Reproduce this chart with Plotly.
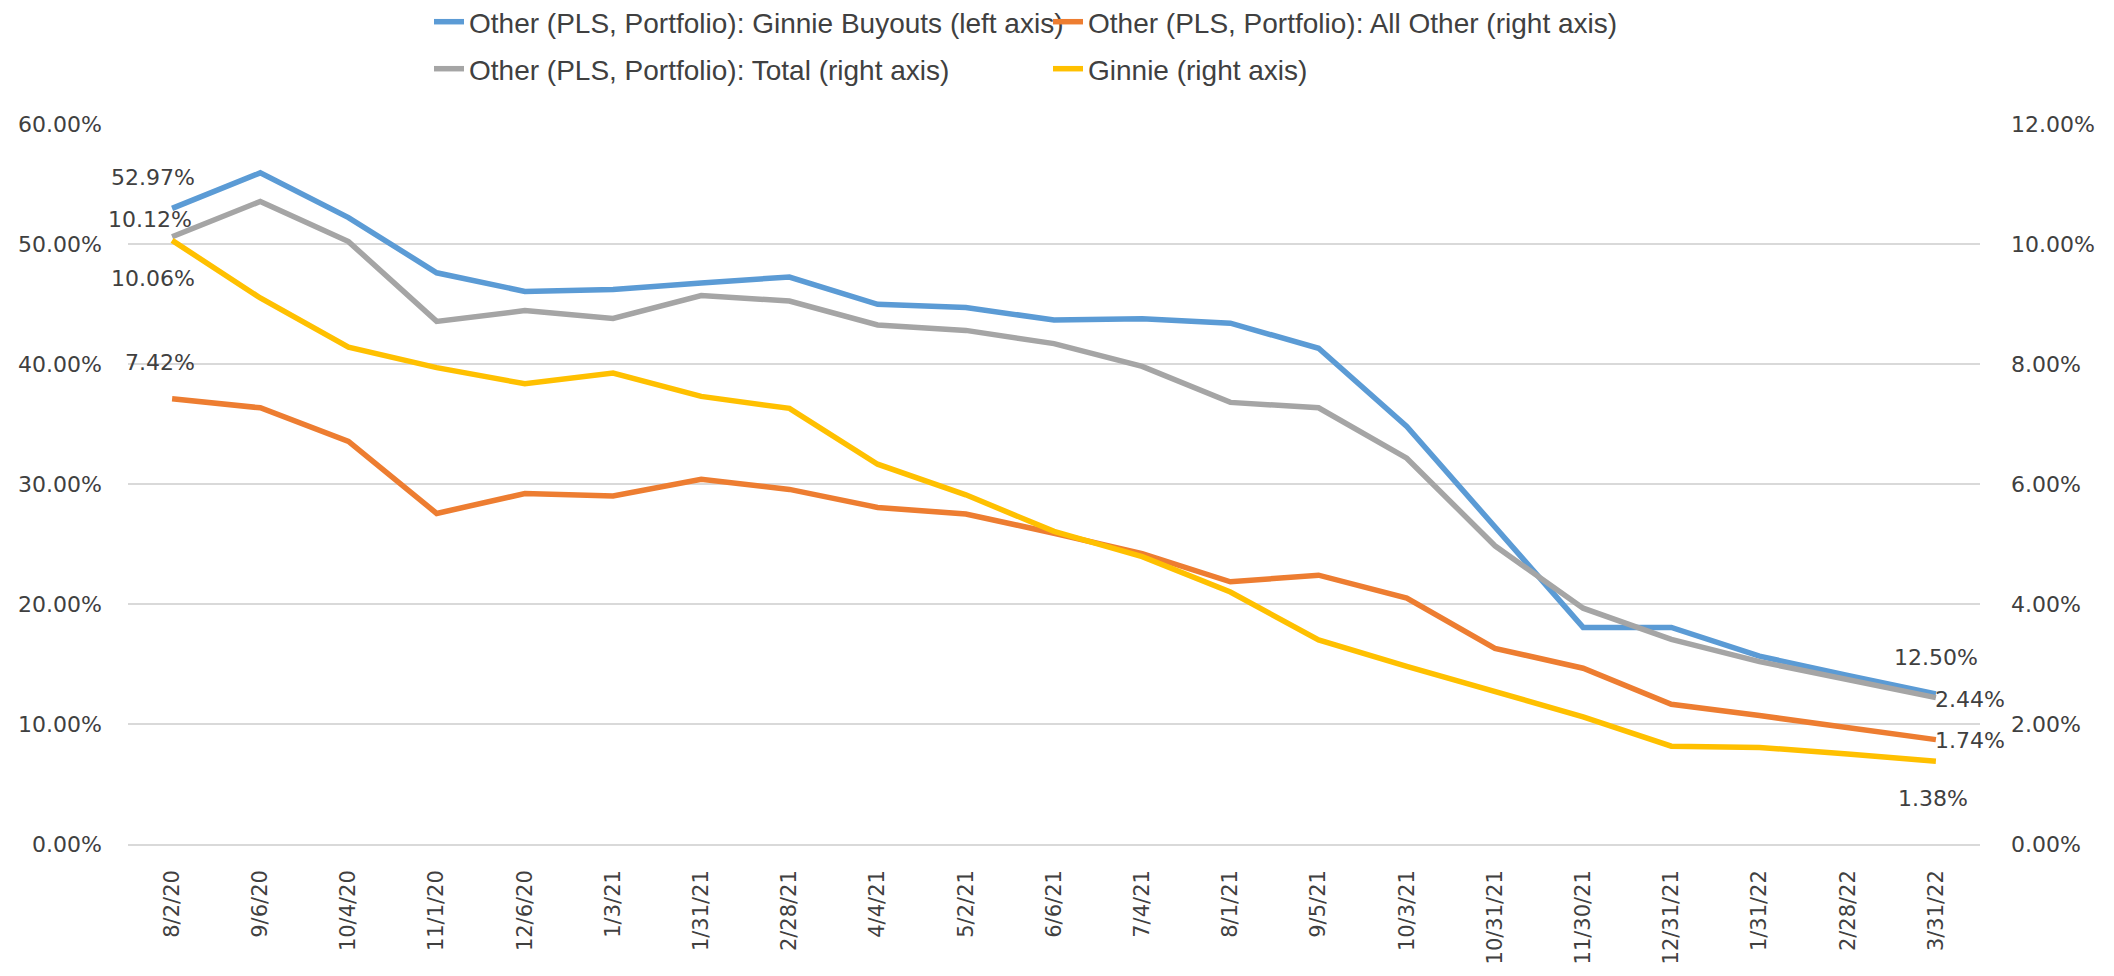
import plotly.graph_objects as go

dates = ["8/2/20", "9/6/20", "10/4/20", "11/1/20", "12/6/20", "1/3/21", "1/31/21",
         "2/28/21", "4/4/21", "5/2/21", "6/6/21", "7/4/21", "8/1/21", "9/5/21",
         "10/3/21", "10/31/21", "11/30/21", "12/31/21", "1/31/22", "2/28/22", "3/31/22"]

ginnie_buyouts = [52.97, 55.93, 52.2, 47.6, 46.05, 46.2, 46.75, 47.25, 44.97, 44.7,
                  43.67, 43.78, 43.4, 41.31, 34.8, 26.4, 18.05, 18.05, 15.65, 14.05, 12.50]
all_other = [7.42, 7.27, 6.71, 5.51, 5.84, 5.80, 6.08, 5.91, 5.61, 5.50,
             5.18, 4.84, 4.37, 4.48, 4.10, 3.26, 2.93, 2.33, 2.14, 1.94, 1.74]
total = [10.12, 10.71, 10.04, 8.71, 8.89, 8.76, 9.14, 9.05, 8.65, 8.56,
         8.34, 7.96, 7.36, 7.27, 6.43, 4.97, 3.93, 3.41, 3.04, 2.73, 2.44]
ginnie = [10.06, 9.10, 8.28, 7.94, 7.67, 7.85, 7.46, 7.26, 6.33, 5.82,
          5.21, 4.79, 4.20, 3.40, 2.96, 2.54, 2.12, 1.63, 1.61, 1.50, 1.38]

names = ["Other (PLS, Portfolio): Ginnie Buyouts (left axis)",
         "Other (PLS, Portfolio): All Other (right axis)",
         "Other (PLS, Portfolio): Total (right axis)",
         "Ginnie (right axis)"]
colors = ["#5B9BD5", "#ED7D31", "#A5A5A5", "#FFC000"]

TXT = "#404040"
GRID = "#D9D9D9"
LW = 5.5

# page body has an 8px margin; figure sized so nothing overflows the window
W, H = 2098, 960

fig = go.Figure()
fig.add_trace(go.Scatter(x=dates, y=ginnie_buyouts, name=names[0], mode="lines",
                         line=dict(color=colors[0], width=LW), yaxis="y", legend="legend"))
fig.add_trace(go.Scatter(x=dates, y=all_other, name=names[1], mode="lines",
                         line=dict(color=colors[1], width=LW), yaxis="y2", legend="legend"))
fig.add_trace(go.Scatter(x=dates, y=total, name=names[2], mode="lines",
                         line=dict(color=colors[2], width=LW), yaxis="y2", legend="legend2"))
fig.add_trace(go.Scatter(x=dates, y=ginnie, name=names[3], mode="lines",
                         line=dict(color=colors[3], width=LW), yaxis="y2", legend="legend2"))

lab_font = dict(family="DejaVu Sans", size=22, color=TXT)

def lab(x, y, yref, xanchor, xshift, yshift):
    fig.add_annotation(x=x, y=y, xref="x", yref=yref, text=f"{y:.2f}%",
                       showarrow=False, xanchor=xanchor, yanchor="middle",
                       xshift=xshift, yshift=yshift, font=lab_font)

first, last = dates[0], dates[-1]
lab(first, ginnie_buyouts[0], "y", "right", 25, 31)
lab(first, total[0], "y2", "right", 22, 17)
lab(first, ginnie[0], "y2", "right", 25, -38)
lab(first, all_other[0], "y2", "right", 25, 36)
lab(last, ginnie_buyouts[-1], "y", "center", 0, 37)
lab(last, total[-1], "y2", "left", -3, -2)
lab(last, all_other[-1], "y2", "left", -3, -1)
lab(last, ginnie[-1], "y2", "center", -3, -37)

leg_font = dict(family="Liberation Sans", size=28, color=TXT)
legend_common = dict(orientation="h", xref="container", yref="container",
                     xanchor="left", yanchor="middle", font=leg_font,
                     entrywidth=574, entrywidthmode="pixels",
                     bgcolor="rgba(0,0,0,0)", borderwidth=0, traceorder="normal")

fig.update_layout(
    width=W, height=H,
    margin=dict(l=120, r=126, t=116, b=124, autoexpand=False),
    paper_bgcolor="white", plot_bgcolor="white",
    showlegend=True,
    legend=dict(x=421 / W, y=1 - 14 / H, **legend_common),
    legend2=dict(x=421 / W, y=1 - 61 / H, **legend_common),
    xaxis=dict(type="category", range=[-0.5, len(dates) - 0.5], tickangle=-90,
               tickfont=dict(family="DejaVu Sans", size=21, color=TXT),
               showgrid=False, showline=True, linecolor=GRID, linewidth=1.5,
               ticks="", ticklabelstandoff=16, automargin=False),
    yaxis=dict(range=[0, 60], dtick=10, tickformat=".2f", ticksuffix="%",
               tickfont=dict(family="DejaVu Sans", size=22, color=TXT),
               showgrid=True, gridcolor=GRID, gridwidth=1.5, zeroline=False,
               showline=False, ticks="", ticklabelstandoff=25, automargin=False),
    yaxis2=dict(range=[0, 12], dtick=2, tickformat=".2f", ticksuffix="%",
                overlaying="y", side="right",
                tickfont=dict(family="DejaVu Sans", size=22, color=TXT),
                showgrid=False, zeroline=False, showline=False, ticks="",
                ticklabelstandoff=30, automargin=False),
)

fig.write_html("out.html")
